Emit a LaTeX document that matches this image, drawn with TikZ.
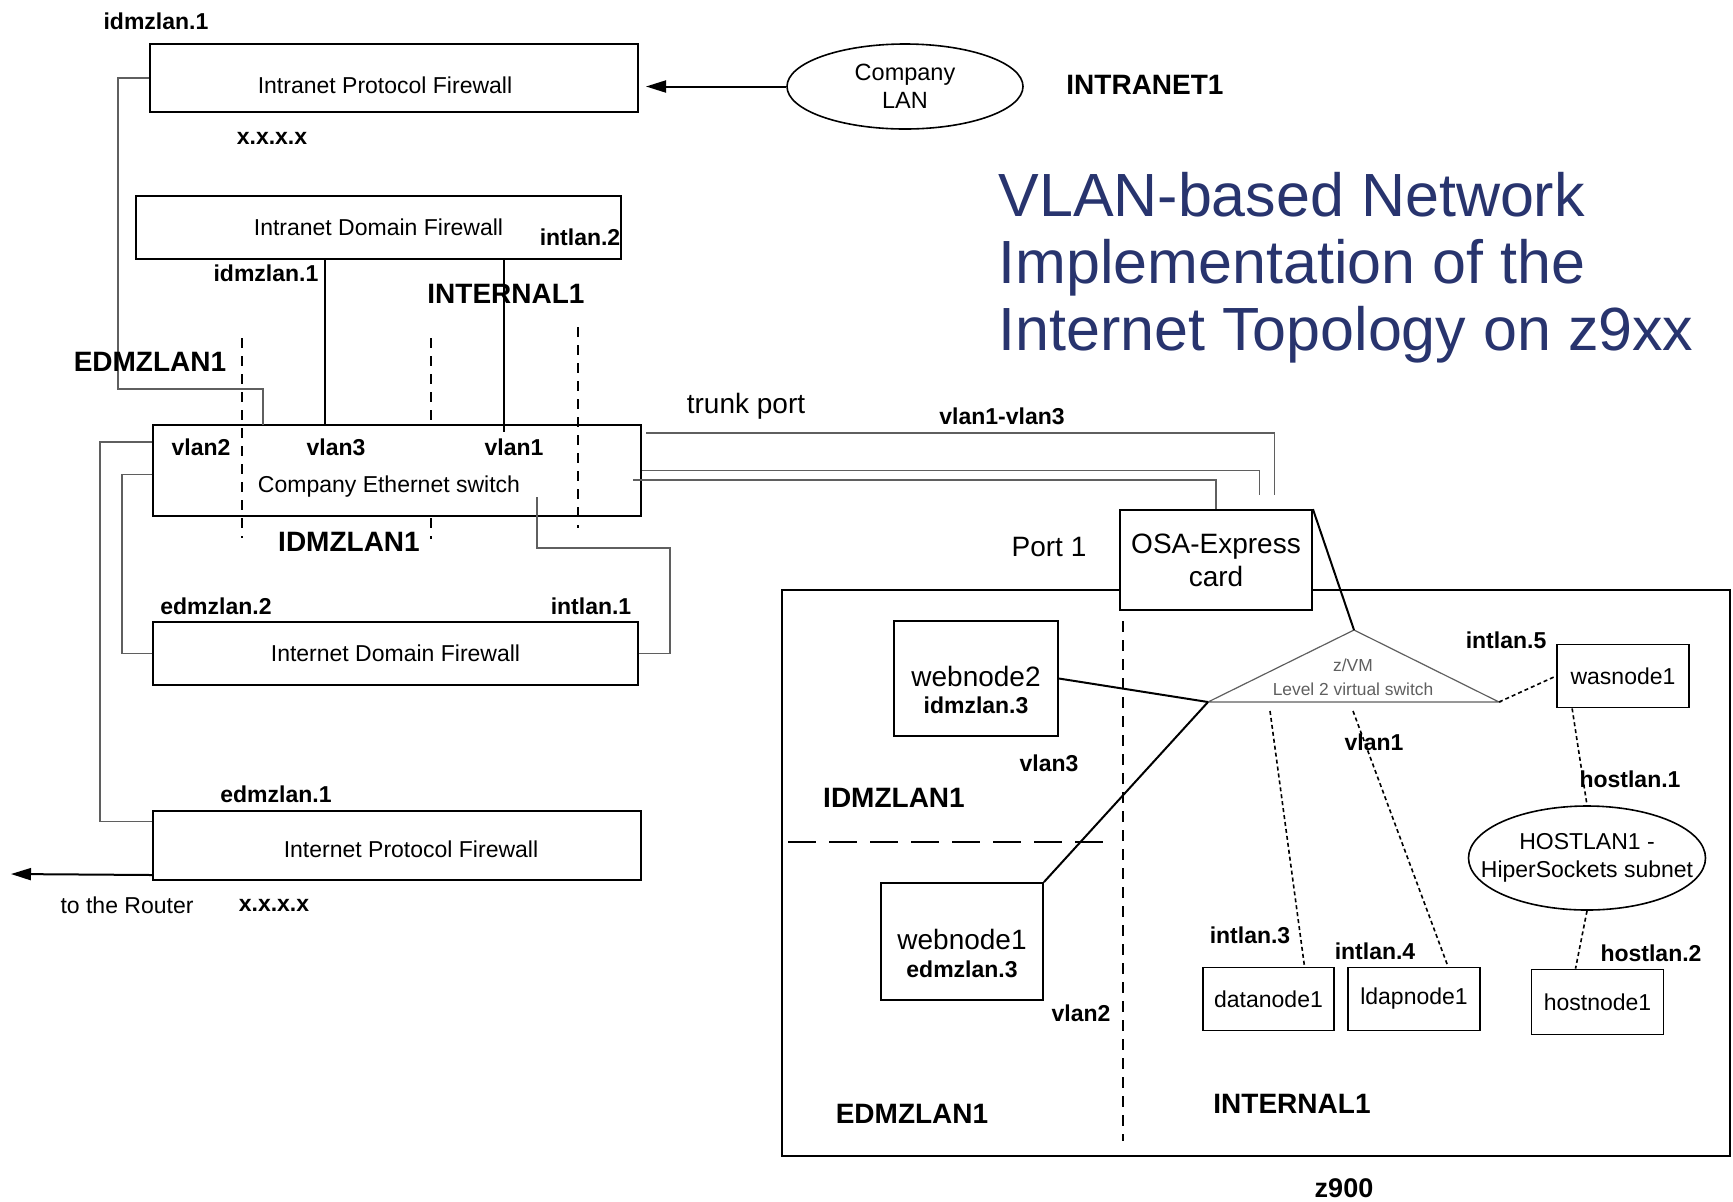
\documentclass[tikz,border=0pt]{standalone}
\usepackage{fontspec}
\setmainfont{Liberation Sans}
\usetikzlibrary{shapes,arrows.meta,positioning,calc}

\definecolor{titleblue}{RGB}{40,52,110}
\definecolor{wiregray}{RGB}{95,95,95}

\tikzset{
  txt/.style={font=\fontsize{11.5}{13.8}\selectfont},
  fw/.style={draw, line width=1pt, fill=white, minimum width=244pt, txt},
  vm/.style={draw, line width=0.9pt, fill=white, txt},
  lbl/.style={font=\fontsize{11.5}{13.8}\selectfont\bfseries},
  zone/.style={font=\fontsize{14}{16}\selectfont\bfseries},
  big/.style={font=\fontsize{14}{16.5}\selectfont},
  web/.style={vm, font=\fontsize{14}{13.8}\selectfont, align=center},
  wire/.style={draw=wiregray, line width=0.6pt},
  link/.style={line width=1pt},
  vlink/.style={line width=0.8pt, dash pattern=on 2pt off 1.5pt},
  divider/.style={line width=0.8pt, dash pattern=on 5pt off 4pt},
  tip/.style={-{Triangle[length=10pt,width=6pt]}}
}

\begin{document}
\begin{tikzpicture}[x=0.5pt,y=0.5pt]
\useasboundingbox (0,0) rectangle (1733,-1201);

% middle divider runs behind the switch
\draw[divider] (431,-338) -- (431,-539);

% left side: firewalls and the switch
\node[fw, minimum height=34pt] (ipfw) at (394,-78)
  {\raisebox{-3.8pt}[\height][\depth]{\hspace*{-9pt}Intranet Protocol Firewall}};
\node[fw, minimum width=242.5pt, minimum height=31.5pt] (idfw) at (378.5,-227.5) {Intranet Domain Firewall};
\node[fw, minimum height=45.5pt] (sw) at (397,-470.5) {};
\node[fw, minimum width=242.5pt, minimum height=31.5pt] (inetdfw) at (395.5,-653.5) {Internet Domain Firewall};
\node[fw, minimum height=34.5pt] (inetpfw) at (397,-845.5)
  {\raisebox{-2pt}[\height][\depth]{\hspace*{14pt}Internet Protocol Firewall}};
\node[draw, ellipse, line width=0.8pt, minimum width=118pt, minimum height=42.5pt, align=center,
  font=\fontsize{11.75}{13.8}\selectfont] (lan) at (905,-86.5) {Company\\LAN};

\draw[divider] (242,-338) -- (242,-538);
\draw[divider] (578,-327) -- (578,-528);

% z900 frame
\draw[line width=1pt] (782,-590) rectangle (1730,-1156);
\draw[divider, dash pattern=on 5.5pt off 4pt] (1123,-621) -- (1123,-1141);
\draw[divider, dash pattern=on 14pt off 6.5pt] (788,-842) -- (1107,-842);

\node[vm, big, minimum width=96pt, minimum height=50pt, align=center] (osa) at (1216,-560) {OSA-Express\\card};
\node[web, minimum width=82pt, minimum height=57.5pt] (web2) at (976,-678.5)
  {\rule{0pt}{21.5pt}webnode2\\{\fontsize{11.5}{13}\selectfont\bfseries idmzlan.3}};
\node[web, minimum width=81pt, minimum height=58.5pt] (web1) at (962,-941.5)
  {\rule{0pt}{22pt}webnode1\\{\fontsize{11.5}{13}\selectfont\bfseries edmzlan.3}};
\node[vm, minimum width=66pt, minimum height=31.5pt] (was) at (1623,-676) {wasnode1};
\node[draw, ellipse, line width=0.8pt, minimum width=118.5pt, minimum height=52pt, align=center,
  inner xsep=-11.5pt, inner ysep=0pt, txt] (hostlan) at (1587,-858) {HOSTLAN1 -\\HiperSockets subnet};
\node[vm, minimum width=65.5pt, minimum height=31.5pt] (data) at (1268.5,-999) {datanode1};
\node[vm, minimum width=66pt, minimum height=31.5pt] (ldap) at (1414,-999) {ldapnode1};
\node[vm, minimum width=66pt, minimum height=32.5pt] (host) at (1597.5,-1002) {hostnode1};

% z/VM virtual switch
\coordinate (vsA) at (1354,-630);
\coordinate (vsL) at (1208,-702);
\coordinate (vsR) at (1499,-702);
\coordinate (vsB1) at (1270,-711);
\coordinate (vsB2) at (1353,-711);
\draw[wire] (vsA) -- (vsL) -- (vsR) -- cycle;
\node[font=\fontsize{8.7}{12}\selectfont, text=wiregray, align=center] (vstext) at (1353,-677) {z/VM\\Level 2 virtual switch};

% connections
\draw[link, tip, shorten >=3.5pt] (lan.west) -- (lan.west -| ipfw.east);
\draw[wire] (ipfw.west) -- ++(-31,0) |- ++(145,-311) -- ++(0,-36);
\draw[link] ($(idfw.south west)+(190,0)$) -- ($(sw.north west)+(173,0)$);
\draw[link] ($(idfw.south west)+(369,0)$) -- ($(sw.north west)+(352,-8)$);
\draw[wire] ([yshift=-9pt]sw.north west) -- ++(-52,0) |- ([yshift=12pt]inetpfw.west);
\draw[wire] ([yshift=-2pt]sw.west) -- ++(-30,0) |- (inetdfw.west);
\draw[wire] ($(sw.south east)+(-105,20)$) |- ++(133,-51) |- (inetdfw.east);
\coordinate (router) at (11,-874);
\draw[link, tip] ([yshift=3pt]inetpfw.south west) -- (router);

% trunk port to the OSA card
\coordinate (t1end) at ($(osa.north west)+(155,14)$);
\coordinate (t2end) at ($(osa.north west)+(140,14)$);
\draw[wire] ([xshift=2pt,yshift=-4.5pt]sw.north east) -| (t1end);
\draw[wire] (sw.east) -| (t2end);
\draw[wire] ([xshift=-4.5pt,yshift=-4.75pt]sw.east) -| (osa.north);

\draw[link] (osa.north east) -- (vsA);
\draw[link] (web2.east) -- (vsL);
\draw[link] (web1.north east) -- (vsL);
\draw[vlink] (vsR) -- (was.west);
\draw[vlink] (vsB1) -- ([xshift=18pt]data.north);
\draw[vlink] (vsB2) -- ([xshift=17pt]ldap.north);
\draw[vlink] ([xshift=8pt]was.south west) -- (hostlan.north);
\draw[vlink] (hostlan.south) -- ([xshift=-11pt]host.north);

% labels
\node[lbl] (l-idmz1a) at (156,-21) {idmzlan.1};
\node[lbl] (l-ipa) at (272,-138) {x.x.x.x};
\node[zone] (l-intranet) at (1145,-85) {INTRANET1};
\node[lbl] (l-int2) at (580,-237) {intlan.2};
\node[lbl] (l-idmz1b) at (266,-273) {idmzlan.1};
\node[zone] (l-internal) at (506,-294) {INTERNAL1};
\node[zone] (l-edmz) at (150,-362) {EDMZLAN1};
\node[lbl] (l-vlan2) at (201,-447) {vlan2};
\node[lbl] (l-vlan3) at (336,-447) {vlan3};
\node[lbl] (l-vlan1) at (514,-447) {vlan1};
\node[txt] (l-switch) at (389,-487) {Company Ethernet switch};
\node[zone] (l-idmz) at (349,-542) {IDMZLAN1};
\node[big] (l-trunk) at (746,-406) {trunk port};
\node[lbl] (l-vlans) at (1002,-416) {vlan1-vlan3};
\node[big] (l-port) at (1049,-547) {Port 1};
\node[lbl] (l-edmz2) at (216,-606) {edmzlan.2};
\node[lbl] (l-int1) at (591,-606) {intlan.1};
\node[lbl] (l-edmz1) at (276,-794) {edmzlan.1};
\node[txt] (l-router) at (127,-905) {to the Router};
\node[lbl] (l-ipb) at (274,-905) {x.x.x.x};

\node[lbl] (z-vlan3) at (1049,-763) {vlan3};
\node[zone] (z-idmz) at (894,-798) {IDMZLAN1};
\node[lbl] (z-vlan2) at (1081,-1013) {vlan2};
\node[zone] (z-edmz) at (912,-1114) {EDMZLAN1};
\node[zone] (z-internal) at (1292,-1104) {INTERNAL1};
\node[zone, font=\fontsize{13.5}{16}\selectfont\bfseries] (z-name) at (1344,-1188) {z900};
\node[lbl] (z-int5) at (1506,-640) {intlan.5};
\node[lbl] (z-vlan1) at (1374,-742) {vlan1};
\node[lbl] (z-host1) at (1630,-779) {hostlan.1};
\node[lbl] (z-host2) at (1651,-953) {hostlan.2};
\node[lbl] (z-int3) at (1250,-935) {intlan.3};
\node[lbl] (z-int4) at (1375,-951) {intlan.4};

% title
\node[anchor=north west, align=left, inner sep=0pt, text=titleblue,
  font=\fontsize{30.5}{33.5}\selectfont] (title) at (998,-172)
  {VLAN-based Network\\Implementation of the\\Internet Topology on z9xx};
\end{tikzpicture}
\end{document}
